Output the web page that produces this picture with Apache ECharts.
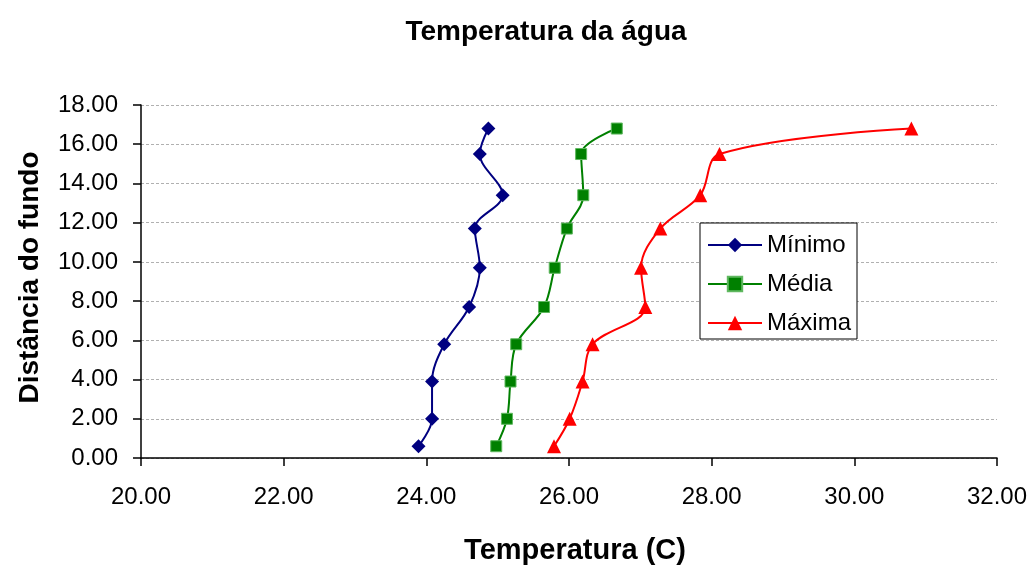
<!DOCTYPE html>
<html>
<head>
<meta charset="utf-8">
<title>Temperatura da água</title>
<script src="https://cdn.jsdelivr.net/npm/echarts@6/dist/echarts.min.js"></script>
<style>
  html, body { margin: 0; padding: 0; background: #ffffff; }
  #chart { width: 1035px; height: 567px; }
</style>
</head>
<body>
<div id="chart"></div>
<script>
// Depth above the bottom (m) for each measurement level
const depths = [0.6, 2.0, 3.9, 5.8, 7.7, 9.7, 11.7, 13.4, 15.5, 16.8];

// Water temperature (°C) at each level
const tempMinimo = [23.89, 24.08, 24.08, 24.25, 24.60, 24.75, 24.68, 25.07, 24.75, 24.87];
const tempMedia  = [24.98, 25.13, 25.18, 25.26, 25.65, 25.80, 25.97, 26.20, 26.17, 26.67];
const tempMaxima = [25.79, 26.01, 26.19, 26.33, 27.07, 27.01, 27.28, 27.84, 28.11, 30.80];

const seriesNames = ['Mínimo', 'Média', 'Máxima'];

// Axis tick values
const xTicks = [20, 22, 24, 26, 28, 30, 32];
const yTicks = [0, 2, 4, 6, 8, 10, 12, 14, 16, 18];

const FONT = '"Liberation Sans", Arial, sans-serif';

function pairs(temps) {
  return temps.map((t, i) => [t, depths[i]]);
}

function lineSeries(name, temps, color, symbol, size, border) {
  return {
    name: name,
    type: 'line',
    data: pairs(temps),
    smooth: 0.35,
    symbol: symbol,
    symbolSize: size,
    showAllSymbol: true,
    lineStyle: { color: color, width: 2 },
    itemStyle: { color: color, borderColor: border || color, borderWidth: border ? 1 : 0 },
    emphasis: { disabled: true },
    z: 3
  };
}

const chart = echarts.init(document.getElementById('chart'), null, { renderer: 'canvas' });

chart.setOption({
  animation: false,
  backgroundColor: '#ffffff',
  textStyle: { fontFamily: FONT },
  title: {
    text: 'Temperatura da água',
    left: 541,
    textAlign: 'center',
    top: 13,
    textStyle: { fontFamily: FONT, fontSize: 28, fontWeight: 'bold', color: '#000000' }
  },
  grid: { left: 141, right: 38, top: 105, bottom: 109, containLabel: false, outerBoundsMode: 'none' },
  legend: {
    data: seriesNames,
    orient: 'vertical',
    left: 700,
    top: 223,
    padding: [9, 6, 3, 7],
    itemGap: 13,
    itemWidth: 54,
    itemHeight: 18,
    backgroundColor: '#ffffff',
    borderColor: '#000000',
    borderWidth: 1,
    textStyle: { fontFamily: FONT, fontSize: 24, color: '#000000', lineHeight: 26 }
  },
  xAxis: {
    type: 'value',
    min: xTicks[0],
    max: xTicks[xTicks.length - 1],
    interval: xTicks[1] - xTicks[0],
    name: 'Temperatura (C)',
    nameLocation: 'middle',
    nameGap: 78,
    nameTextStyle: { fontFamily: FONT, fontSize: 29, fontWeight: 'bold', color: '#000000', padding: [0, 0, 0, 12] },
    axisLine: { show: true, lineStyle: { color: '#000000', width: 1.5 } },
    axisTick: { show: true, inside: false, length: 8, lineStyle: { color: '#000000', width: 1.5 } },
    axisLabel: {
      margin: 27,
      fontFamily: FONT,
      fontSize: 24,
      color: '#000000',
      formatter: v => v.toFixed(2)
    },
    splitLine: { show: false }
  },
  yAxis: {
    type: 'value',
    min: yTicks[0],
    max: yTicks[yTicks.length - 1],
    interval: yTicks[1] - yTicks[0],
    name: 'Distância do fundo',
    nameLocation: 'middle',
    nameGap: 97,
    nameTextStyle: { fontFamily: FONT, fontSize: 28, fontWeight: 'bold', color: '#000000', padding: [0, 0, 0, 8] },
    axisLine: { show: true, lineStyle: { color: '#000000', width: 1.5 } },
    axisTick: { show: true, inside: false, length: 8, lineStyle: { color: '#000000', width: 1.5 } },
    axisLabel: {
      margin: 23,
      fontFamily: FONT,
      fontSize: 24,
      color: '#000000',
      formatter: v => v.toFixed(2)
    },
    splitLine: { show: true, lineStyle: { color: '#b0b0b0', width: 1, type: [3, 2] } }
  },
  series: [
    lineSeries(seriesNames[0], tempMinimo, '#000080', 'diamond', 14),
    lineSeries(seriesNames[1], tempMedia, '#008000', 'rect', 11, '#5fb85f'),
    lineSeries(seriesNames[2], tempMaxima, '#ff0000', 'triangle', 14)
  ]
});
</script>
</body>
</html>
